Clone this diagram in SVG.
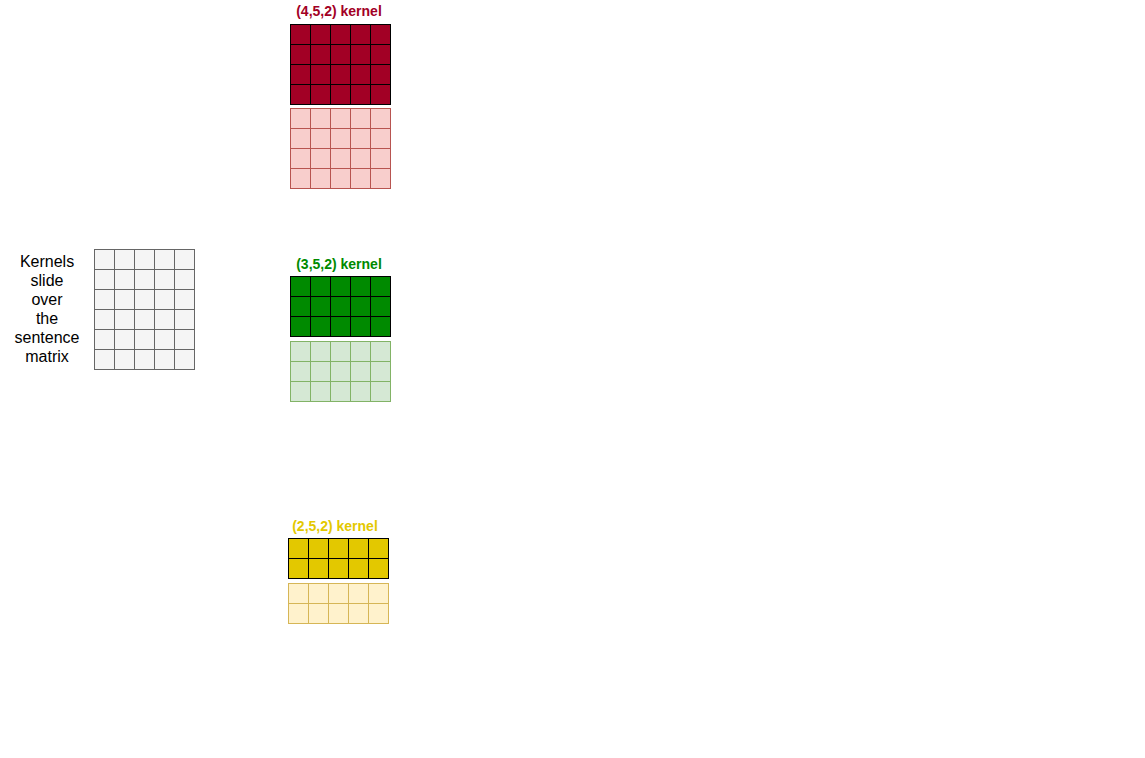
<svg xmlns="http://www.w3.org/2000/svg" width="1145" height="758" viewBox="0 0 1145 758">
<defs>
<style>
.lbl{font-family:"Liberation Sans",Arial,sans-serif;font-size:14px;font-weight:bold;text-anchor:middle}
.txt{font-family:"Liberation Sans",Arial,sans-serif;font-size:16px;text-anchor:middle;fill:#000}
.red{fill:#a20025;stroke:#000}
.pink{fill:#f8cecc;stroke:#b85450}
.grn{fill:#008a00;stroke:#000}
.lgrn{fill:#d5e8d4;stroke:#82b366}
.yel{fill:#e3c800;stroke:#000}
.lyel{fill:#fff2cc;stroke:#d6b656}
.gray{fill:#f5f5f5;stroke:#666666}
</style>
<g id="row5" stroke-width="1">
<rect x="0" y="0" width="20" height="20"/><rect x="20" y="0" width="20" height="20"/><rect x="40" y="0" width="20" height="20"/><rect x="60" y="0" width="20" height="20"/><rect x="80" y="0" width="20" height="20"/>
</g>
</defs>
<rect width="1145" height="758" fill="#fff"/>
<g id="sentence-text"><text class="txt" x="47" y="267">Kernels</text><text class="txt" x="47" y="286">slide</text><text class="txt" x="47" y="305">over</text><text class="txt" x="47" y="324">the</text><text class="txt" x="47" y="343">sentence</text><text class="txt" x="47" y="362">matrix</text></g>
<g id="sentence-matrix" class="gray">
<use href="#row5" x="94.5" y="249.5"/><use href="#row5" x="94.5" y="269.5"/><use href="#row5" x="94.5" y="289.5"/><use href="#row5" x="94.5" y="309.5"/><use href="#row5" x="94.5" y="329.5"/><use href="#row5" x="94.5" y="349.5"/>
</g>
<g id="kernel4">
<text class="lbl" x="339" y="16" fill="#a20025">(4,5,2) kernel</text>
<g class="red"><use href="#row5" x="290.5" y="24.5"/><use href="#row5" x="290.5" y="44.5"/><use href="#row5" x="290.5" y="64.5"/><use href="#row5" x="290.5" y="84.5"/></g>
<g class="pink"><use href="#row5" x="290.5" y="108.5"/><use href="#row5" x="290.5" y="128.5"/><use href="#row5" x="290.5" y="148.5"/><use href="#row5" x="290.5" y="168.5"/></g>
</g>
<g id="kernel3">
<text class="lbl" x="339" y="269" fill="#008a00">(3,5,2) kernel</text>
<g class="grn"><use href="#row5" x="290.5" y="276.5"/><use href="#row5" x="290.5" y="296.5"/><use href="#row5" x="290.5" y="316.5"/></g>
<g class="lgrn"><use href="#row5" x="290.5" y="341.5"/><use href="#row5" x="290.5" y="361.5"/><use href="#row5" x="290.5" y="381.5"/></g>
</g>
<g id="kernel2">
<text class="lbl" x="335" y="531" fill="#e3c800">(2,5,2) kernel</text>
<g class="yel"><use href="#row5" x="288.5" y="538.5"/><use href="#row5" x="288.5" y="558.5"/></g>
<g class="lyel"><use href="#row5" x="288.5" y="583.5"/><use href="#row5" x="288.5" y="603.5"/></g>
</g>
<g id="connectors"/>
</svg>
